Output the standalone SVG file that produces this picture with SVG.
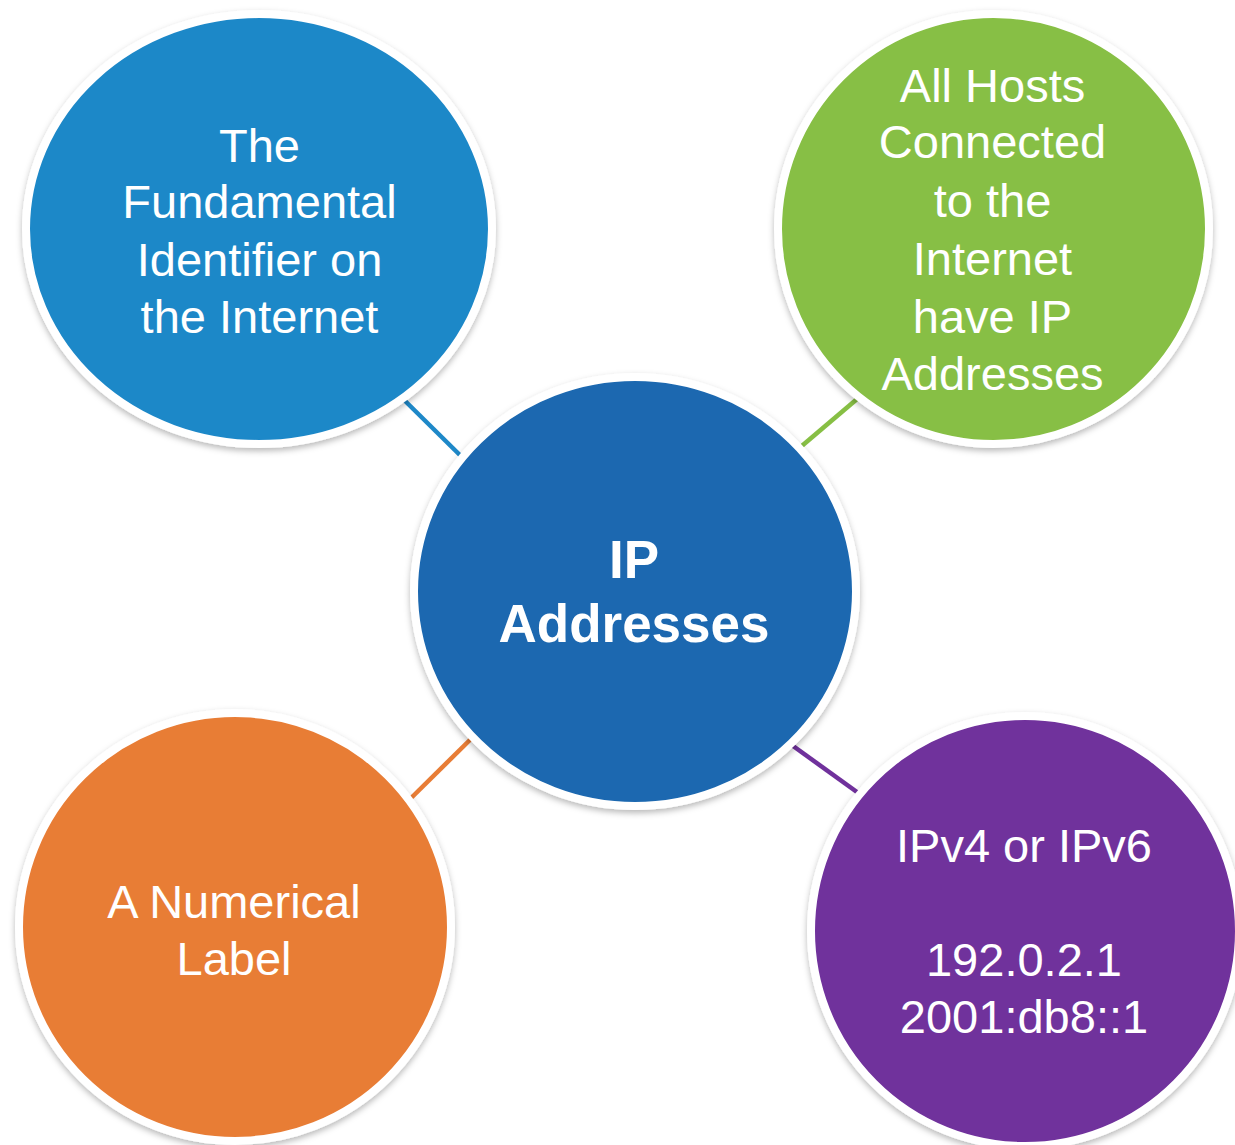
<svg xmlns="http://www.w3.org/2000/svg" width="1235" height="1145" viewBox="0 0 1235 1145">
  <defs>
    <filter id="shadow" x="-10%" y="-10%" width="120%" height="125%">
      <feDropShadow dx="0" dy="3" stdDeviation="3" flood-color="#000" flood-opacity="0.28"/>
    </filter>
    <style>
      .bubble { stroke: #ffffff; stroke-width: 8; filter: url(#shadow); }
      .lbl { font-family: "Liberation Sans", Arial, sans-serif; font-size: 47px; fill: #ffffff; text-anchor: middle; }
      .main { font-family: "Liberation Sans", Arial, sans-serif; font-size: 53px; font-weight: bold; fill: #ffffff; text-anchor: middle; }
      .conn { stroke-width: 4.5; fill: none; }
    </style>
  </defs>
  <rect width="1235" height="1145" fill="#ffffff"/>

  <g id="connectors">
    <line class="conn" x1="395" y1="391" x2="470" y2="465" stroke="#1E88C8"/>
    <line class="conn" x1="870" y1="388" x2="790" y2="456" stroke="#87BF44"/>
    <line class="conn" x1="480" y1="730" x2="402" y2="807" stroke="#E87D36"/>
    <line class="conn" x1="782" y1="738" x2="868" y2="800" stroke="#70319C"/>
  </g>

  <g id="node-fundamental">
    <ellipse class="bubble" cx="259" cy="229" rx="233" ry="215" fill="#1E88C8"/>
    <text class="lbl" x="259.5" y="162">The</text>
    <text class="lbl" x="259.5" y="218">Fundamental</text>
    <text class="lbl" x="259.5" y="276">Identifier on</text>
    <text class="lbl" x="259.5" y="333">the Internet</text>
  </g>

  <g id="node-hosts">
    <ellipse class="bubble" cx="993.5" cy="229" rx="215.5" ry="215" fill="#87BF44"/>
    <text class="lbl" x="992.5" y="102">All Hosts</text>
    <text class="lbl" x="992.5" y="158">Connected</text>
    <text class="lbl" x="992.5" y="217">to the</text>
    <text class="lbl" x="992.5" y="275">Internet</text>
    <text class="lbl" x="992.5" y="333">have IP</text>
    <text class="lbl" x="992.5" y="390">Addresses</text>
  </g>

  <g id="node-numerical">
    <ellipse class="bubble" cx="235" cy="927" rx="216" ry="214" fill="#E87D36"/>
    <text class="lbl" x="234" y="918">A Numerical</text>
    <text class="lbl" x="234" y="975">Label</text>
  </g>

  <g id="node-versions">
    <ellipse class="bubble" cx="1025" cy="931" rx="214" ry="215" fill="#70319C"/>
    <text class="lbl" x="1024" y="862">IPv4 or IPv6</text>
    <text class="lbl" x="1024" y="976">192.0.2.1</text>
    <text class="lbl" x="1024" y="1033">2001:db8::1</text>
  </g>

  <g id="node-ip">
    <ellipse class="bubble" cx="635" cy="591.5" rx="221" ry="214.5" fill="#1B68B0"/>
    <text class="main" x="634" y="578">IP</text>
    <text class="main" x="634" y="642">Addresses</text>
  </g>
</svg>
